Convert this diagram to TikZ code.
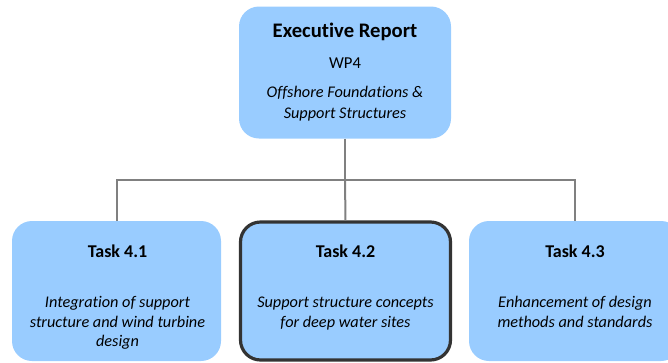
\documentclass[tikz,border=0pt]{standalone}
\usepackage{fontspec}
\setmainfont{Carlito}[RawFeature={-liga;-dlig}]
\definecolor{boxblue}{RGB}{153,204,255}
\definecolor{linegray}{RGB}{128,128,128}
\definecolor{darkedge}{RGB}{51,51,51}
\tikzset{
  box/.style={draw=none, fill=boxblue, rounded corners=15pt, inner sep=0pt},
  hilite/.style={draw=darkedge, line width=2.4pt},
  conn/.style={draw=linegray, line width=1.5pt},
  ttl/.style={anchor=base, inner sep=0pt, font=\fontsize{15.5}{18}\selectfont\bfseries},
  tasktl/.style={anchor=base, inner sep=0pt, font=\fontsize{13.5}{16}\selectfont\bfseries},
  plain/.style={anchor=base, inner sep=0pt, font=\fontsize{12.5}{15}\selectfont},
  itl/.style={anchor=base, inner sep=0pt, font=\fontsize{12.2}{15}\selectfont\itshape},
}
\begin{document}
\begin{tikzpicture}[x=0.75pt,y=-0.75pt]
\useasboundingbox (0,0) rectangle (668,362);
\clip (0,0) rectangle (668,362);
% boxes
\node[box, minimum width=159pt, minimum height=99pt] (top) at (345,72.5) {};
\node[box, minimum width=156.75pt, minimum height=105pt] (t1) at (116.5,291) {};
\node[box, hilite, minimum width=157.5pt, minimum height=103.5pt] (t2) at (345.5,291) {};
\node[box, minimum width=159pt, minimum height=105pt] (t3) at (575,291) {};
% connectors
\coordinate (j) at (345,180);
\path[conn] (top.south) -- (j);
\path[conn] (j) -| (t1.north);
\path[conn] (j) -| (t3.north);
\path[conn] (j) -- (t2.north);
% top texts
\node[ttl] (a1) at (345,37) {Executive Report};
\node[plain] (a2) at (345,68) {WP4};
\node[itl] (a3) at (345,97) {Offshore Foundations \&};
\node[itl] (a4) at (345,118) {Support Structures};
% task 4.1
\node[tasktl] (b1) at (117.5,257) {Task 4.1};
\node[itl] (b2) at (117.5,307) {Integration of support};
\node[itl] (b3) at (117.5,327) {structure and wind turbine};
\node[itl] (b4) at (117.5,346) {design};
% task 4.2
\node[tasktl] (c1) at (345.5,257) {Task 4.2};
\node[itl] (c2) at (345.5,307) {Support structure concepts};
\node[itl] (c3) at (345.5,327) {for deep water sites};
% task 4.3
\node[tasktl] (d1) at (575,257) {Task 4.3};
\node[itl] (d2) at (575,307) {Enhancement of design};
\node[itl] (d3) at (575,327) {methods and standards};
\end{tikzpicture}
\end{document}
